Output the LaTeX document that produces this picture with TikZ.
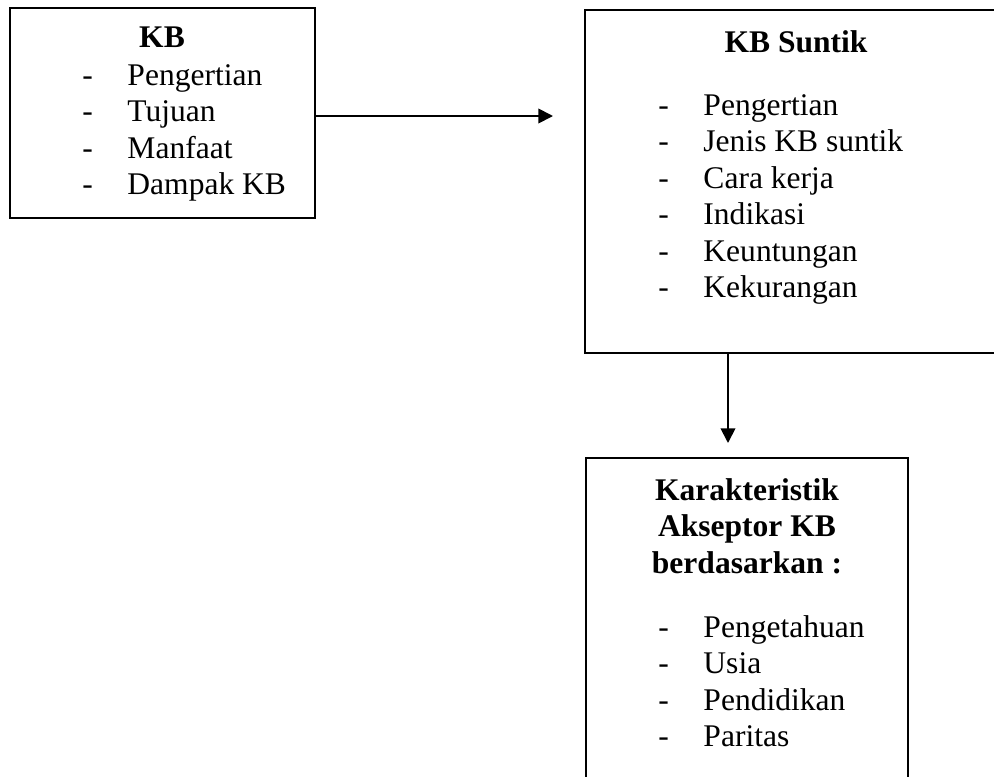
\documentclass[tikz,border=0pt]{standalone}
\usepackage{fontspec}
\setmainfont{Liberation Serif}
\usepackage{tikz}
\usetikzlibrary{positioning,fit,arrows.meta}

\begin{document}
\begin{tikzpicture}[
    x=0.444pt, y=-0.444pt,
    box/.style={
        draw, rectangle, line width=0.6pt, inner sep=0pt
    },
    head/.style={anchor=base, inner sep=0pt, font=\fontsize{14}{16}\selectfont\bfseries},
    item/.style={anchor=base west, inner sep=0pt, font=\fontsize{14}{16}\selectfont},
    arrow/.style={-{Triangle[length=6.5pt,width=6.5pt]}, line width=0.8pt}
]
\useasboundingbox (0,0) rectangle (994,776);
\clip (0,0) rectangle (994,776);

% kotak-kotak
\node[box, fit={(10,8) (315,218)}] (kb) {};
\node[box, fit={(585,10) (1007,353)}] (suntik) {};
\node[box, fit={(586,458) (908,800)}] (akseptor) {};

% judul
\node[head] (kbhead) at (162,47) {KB};
\node[head] (suntikhead) at (796,52) {KB Suntik};
\node[head] (akshead1) at (747,500) {Karakteristik};
\node[head, below=0pt of akshead1.base, anchor=base, yshift=-16.3pt] (akshead2) {Akseptor KB};
\node[head, below=0pt of akshead2.base, anchor=base, yshift=-16.3pt] (akshead3) {berdasarkan :};

% isi daftar
\foreach \t [count=\i] in {Pengertian, Tujuan, Manfaat, Dampak KB}
    \node[item] (kb-\i) at (82,{85+36.6*(\i-1)}) {\makebox[20pt][l]{-}\t};
\foreach \t [count=\i] in {Pengertian, Jenis KB suntik, Cara kerja, Indikasi, Keuntungan, Kekurangan}
    \node[item] (suntik-\i) at (658,{115+36.5*(\i-1)}) {\makebox[20pt][l]{-}\t};
\foreach \t [count=\i] in {Pengetahuan, Usia, Pendidikan, Paritas}
    \node[item] (aks-\i) at (658,{637+36.6*(\i-1)}) {\makebox[20pt][l]{-}\t};

% panah
\coordinate (tip1) at (553,116);
\coordinate (tip2) at (728,443);
\draw[arrow] (kb.east |- tip1) -- (tip1);
\draw[arrow] (tip2 |- suntik.south) -- (tip2);

\end{tikzpicture}
\end{document}
